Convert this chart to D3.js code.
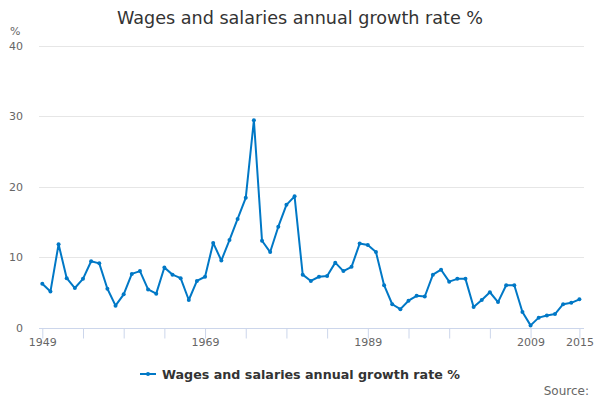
<!doctype html>
<html>
<head>
<meta charset="utf-8">
<style>
	body { margin: 0; background: #fff; }
	text { font-family: "DejaVu Sans", sans-serif; }
</style>
</head>
<body>
	<div class="figure"></div>

	<script src="https://d3js.org/d3.v7.min.js"></script>
	<script>
		// data
		let years = d3.range(1949, 2016);
		let growth = [
			6.2, 5.1, 11.8, 7.0, 5.6, 6.9, 9.4, 9.1, 5.5, 3.1,
			4.7, 7.6, 8.0, 5.4, 4.8, 8.5, 7.5, 7.0, 3.9, 6.6,
			7.2, 12.0, 9.5, 12.4, 15.4, 18.4, 29.4, 12.3, 10.7, 14.3,
			17.4, 18.6, 7.5, 6.6, 7.2, 7.3, 9.2, 8.0, 8.6, 11.9,
			11.7, 10.7, 6.0, 3.3, 2.6, 3.8, 4.5, 4.4, 7.5, 8.2,
			6.5, 6.9, 6.9, 2.9, 3.9, 5.0, 3.6, 6.0, 6.0, 2.2,
			0.3, 1.4, 1.7, 1.9, 3.3, 3.5, 4.0
		];
		let yTicks = [0, 10, 20, 30, 40];
		let xTicks = [1949, 1954, 1959, 1964, 1969, 1974, 1979, 1984, 1989, 1994, 1999, 2004, 2009, 2015];
		let xLabels = [1949, 1969, 1989, 2009, 2015];
		let title = "Wages and salaries annual growth rate %";
		let seriesName = "Wages and salaries annual growth rate %";

		let W = 600, H = 400;
		let blue = "#0078c6";

		let svg = d3.select(".figure")
			.append("svg")
			.attr("width", W)
			.attr("height", H);

		let x = d3.scaleLinear().domain([1949, 2015]).range([42.3, 579.4]);
		let y = d3.scaleLinear().domain([0, 40]).range([327.5, 45.5]);

		// title
		svg.append("text")
			.attr("x", 300).attr("y", 24)
			.attr("text-anchor", "middle")
			.style("font-size", "17.6px")
			.style("fill", "#333")
			.text(title);

		// grid lines
		svg.append("g").selectAll("line")
			.data(yTicks.filter(d => d > 0))
			.join("line")
			.attr("x1", 39).attr("x2", 584)
			.attr("y1", d => Math.round(y(d)) + 0.5)
			.attr("y2", d => Math.round(y(d)) + 0.5)
			.attr("stroke", "#e6e6e6");

		// y labels
		svg.append("g").selectAll("text")
			.data(yTicks)
			.join("text")
			.attr("x", 23)
			.attr("y", d => y(d) + 4)
			.attr("text-anchor", "end")
			.style("font-size", "11px")
			.style("fill", "#666")
			.text(d => d);

		svg.append("text")
			.attr("x", 10).attr("y", 35)
			.style("font-size", "11px")
			.style("fill", "#666")
			.text("%");

		// x axis
		let xAxis = d3.axisBottom(x)
			.tickValues(xTicks)
			.tickSize(10)
			.tickFormat(d => xLabels.includes(d) ? d : "");

		let gx = svg.append("g")
			.attr("transform", "translate(0," + (Math.round(y(0)) + 0.5) + ")")
			.call(xAxis);
		gx.select(".domain").attr("d", "M39,0H584").attr("stroke", "#ccd6eb");
		gx.selectAll(".tick line").attr("stroke", "#ccd6eb");
		gx.selectAll(".tick text")
			.attr("y", 10)
			.style("font-family", "DejaVu Sans, sans-serif")
			.style("font-size", "11px")
			.style("fill", "#666");

		// series
		let pts = years.map((yr, i) => [yr, growth[i]]);

		svg.append("path")
			.datum(pts)
			.attr("fill", "none")
			.attr("stroke", blue)
			.attr("stroke-width", 2)
			.attr("stroke-linejoin", "round")
			.attr("d", d3.line().x(d => x(d[0])).y(d => y(d[1])));

		svg.append("g").selectAll("circle")
			.data(pts)
			.join("circle")
			.attr("cx", d => x(d[0]))
			.attr("cy", d => y(d[1]))
			.attr("r", 2)
			.attr("fill", blue);

		// legend
		let lg = svg.append("g").attr("transform", "translate(140,374)");
		lg.append("line")
			.attr("x1", 0).attr("x2", 16)
			.attr("stroke", blue).attr("stroke-width", 2);
		lg.append("circle").attr("cx", 8).attr("r", 2).attr("fill", blue);
		lg.append("text")
			.attr("x", 22).attr("y", 5)
			.style("font-size", "12.7px")
			.style("font-weight", "bold")
			.style("fill", "#333")
			.text(seriesName);

		svg.append("text")
			.attr("x", 589).attr("y", 395)
			.attr("text-anchor", "end")
			.style("font-size", "12px")
			.style("fill", "#666")
			.text("Source:");
	</script>
</body>
</html>
